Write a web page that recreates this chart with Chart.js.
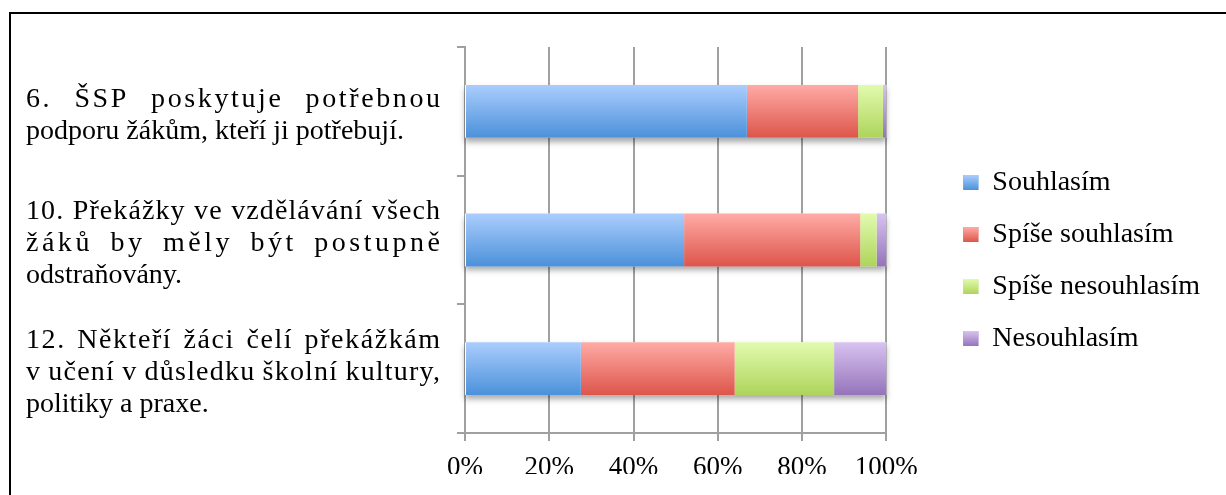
<!DOCTYPE html>
<html lang="cs">
<head>
<meta charset="utf-8">
<title>ŠSP – míra souhlasu</title>
<script src="https://cdn.jsdelivr.net/npm/chart.js@4.4.1/dist/chart.umd.min.js"></script>
<style>
  html, body { margin: 0; padding: 0; background: #fff; overflow: hidden; }
  #frame { position: absolute; left: 9px; top: 12px; width: 1400px; height: 700px; border: 2px solid #000; }
  #wrap { position: absolute; left: 0; top: 0; width: 1226px; height: 495px; }
</style>
</head>
<body>
<div id="frame"></div>
<div id="wrap"><canvas id="chart"></canvas></div>
<script>
// ---- data (percent of answers) ----
const categories = [
    ['6. ŠSP poskytuje potřebnou', 'podporu žákům, kteří ji potřebují.'],
    ['10. Překážky ve vzdělávání všech', 'žáků by měly být postupně', 'odstraňovány.'],
    ['12. Někteří žáci čelí překážkám', 'v učení v důsledku školní kultury,', 'politiky a praxe.']
];
const souhlasim        = [66.9, 52.0, 27.5];
const spiseSouhlasim   = [26.4, 41.8, 36.5];
const spiseNesouhlasim = [5.9, 3.9, 23.6];
const nesouhlasim      = [0.8, 2.3, 12.4];
const xTicks = [0, 20, 40, 60, 80, 100];

// ---- look ----
const FONT = '"Liberation Serif", "DejaVu Serif", serif';
const FONT_SIZE = 28;      // category texts + legend
const TICK_SIZE = 27;
const LINE_H = 32;
const TEXT_LEFT = 26, TEXT_RIGHT = 440;
const BAR_FRACTION = 0.41;
const GRID = '#a0a0a0';

// bar gradient, light on top and darker at the bottom
function gradientFill(top, bottom) {
    return context => {
        const chart = context.chart;
        const y = chart.scales.y;
        if (!chart.chartArea || !y || context.dataIndex === undefined) return bottom;
        const half = (y.height / chart.data.labels.length) * BAR_FRACTION / 2;
        const cy = y.getPixelForValue(context.dataIndex);
        const g = chart.ctx.createLinearGradient(0, cy - half, 0, cy + half);
        g.addColorStop(0, top);
        g.addColorStop(1, bottom);
        return g;
    };
}

const palette = [
    ['#abcdfd', '#4b91da'],
    ['#ffaba6', '#dd554a'],
    ['#e1fbae', '#aed45b'],
    ['#d8c3f0', '#9574bb']
];

// soft shadow under every whole bar
const barShadow = {
    id: 'barShadow',
    beforeDatasetsDraw(chart) {
        const { ctx, scales: { x } } = chart;
        const meta = chart.getDatasetMeta(0);
        const x0 = x.getPixelForValue(0), x1 = x.getPixelForValue(100);
        ctx.save();
        ctx.shadowColor = 'rgba(0,0,0,0.35)';
        ctx.shadowBlur = 6;
        ctx.shadowOffsetY = 4;
        ctx.fillStyle = '#fff';
        meta.data.forEach(bar => {
            ctx.fillRect(x0, bar.y - bar.height / 2, x1 - x0, bar.height);
        });
        ctx.restore();
    }
};

// justified category texts on the left
function drawJustified(ctx, line, x, width, y) {
    const words = line.split(' ');
    ctx.letterSpacing = '0px';
    const widths = words.map(w => ctx.measureText(w).width);
    const natural = widths.reduce((s, w) => s + w, 0);
    const inner = words.reduce((s, w) => s + w.length - 1, 0);
    const spare = width - natural;
    const ls = ('letterSpacing' in ctx) ? spare * 0.4 / inner : 0;
    const gap = (spare - ls * inner) / (words.length - 1);
    ctx.letterSpacing = ls + 'px';
    words.forEach((w, i) => {
        ctx.fillText(w, x, y);
        x += widths[i] + ls * (w.length - 1) + gap;
    });
    ctx.letterSpacing = '0px';
}

const justifiedLabels = {
    id: 'justifiedLabels',
    afterDraw(chart) {
        const ctx = chart.ctx, y = chart.scales.y;
        ctx.save();
        ctx.font = FONT_SIZE + 'px ' + FONT;
        ctx.fillStyle = '#000';
        ctx.textBaseline = 'middle';
        ctx.textAlign = 'left';
        chart.data.labels.forEach((lines, i) => {
            let ly = y.getPixelForValue(i) + 4 - (lines.length - 1) * LINE_H / 2;
            lines.forEach((line, j) => {
                if (j === lines.length - 1) ctx.fillText(line, TEXT_LEFT, ly);
                else drawJustified(ctx, line, TEXT_LEFT, TEXT_RIGHT - TEXT_LEFT, ly);
                ly += LINE_H;
            });
        });
        ctx.restore();
    }
};

// repaint legend boxes with the same gradients as the bars
const legendGradient = {
    id: 'legendGradient',
    afterDraw(chart) {
        const legend = chart.legend;
        if (!legend || !legend.legendHitBoxes) return;
        const ctx = chart.ctx;
        const bw = 15;
        legend.legendHitBoxes.forEach((hb, i) => {
            const top = hb.top + Math.max((FONT_SIZE - bw) / 2, 0);
            const g = ctx.createLinearGradient(0, top, 0, top + bw);
            g.addColorStop(0, palette[i][0]);
            g.addColorStop(1, palette[i][1]);
            ctx.fillStyle = g;
            ctx.fillRect(hb.left, top, bw, bw);
        });
    }
};

const seriesNames = ['Souhlasím', 'Spíše souhlasím', 'Spíše nesouhlasím', 'Nesouhlasím'];
const seriesValues = [souhlasim, spiseSouhlasim, spiseNesouhlasim, nesouhlasim];

new Chart(document.getElementById('chart'), {
    type: 'bar',
    data: {
        labels: categories,
        datasets: seriesValues.map((vals, i) => ({
            label: seriesNames[i],
            data: vals,
            backgroundColor: gradientFill(palette[i][0], palette[i][1]),
            borderWidth: 0,
            categoryPercentage: 1,
            barPercentage: BAR_FRACTION
        }))
    },
    options: {
        indexAxis: 'y',
        responsive: true,
        maintainAspectRatio: false,
        animation: false,
        layout: { padding: { left: 0, top: 47, bottom: 21, right: 16 } },
        plugins: {
            legend: {
                position: 'right',
                labels: {
                    boxWidth: 15,
                    boxHeight: 15,
                    padding: 24,
                    color: '#000',
                    font: { family: FONT, size: FONT_SIZE }
                }
            },
            tooltip: { enabled: false }
        },
        scales: {
            x: {
                stacked: true,
                min: 0,
                max: 100,
                afterBuildTicks: s => { s.ticks = xTicks.map(v => ({ value: v })); },
                afterFit: s => { s.height = 41; },
                ticks: {
                    color: '#000',
                    padding: 11,
                    font: { family: FONT, size: TICK_SIZE },
                    callback: v => v + '%'
                },
                grid: { color: GRID, lineWidth: 2, tickLength: 8 },
                border: { color: GRID, width: 2 }
            },
            y: {
                stacked: true,
                afterFit: s => { s.width = 465; },
                ticks: { display: false },
                grid: { drawOnChartArea: false, color: GRID, lineWidth: 2, tickLength: 8 },
                border: { color: GRID, width: 2 }
            },
            // empty strip between the plot and the legend
            gapRight: {
                type: 'category',
                position: 'right',
                display: false,
                afterFit: s => { s.width = 53; }
            }
        }
    },
    plugins: [barShadow, justifiedLabels, legendGradient]
});
</script>
</body>
</html>
